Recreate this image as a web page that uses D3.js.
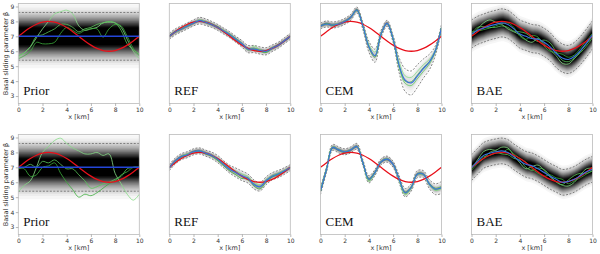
<!DOCTYPE html>
<html lang="en">
<head>
<meta charset="UTF-8">
<script src="https://cdn.jsdelivr.net/npm/d3@7"></script>
<style>
  body { margin: 0; background: #fff; }
</style>
</head>
<body>
<div id="container"></div>
<script>
// x grid (km), shared by every curve
const xKm = [0,0.5,1,1.5,2,2.5,3,3.5,4,4.5,5,5.5,6,6.5,7,7.5,8,8.5,9,9.5,10];
const xTicks = [0,2,4,6,8,10];
const yTicks = [3,4,5,6,7,8,9];

// true parameter (red)
const truth = [7,7.31,7.59,7.81,7.95,8,7.95,7.81,7.59,7.31,7,6.69,6.41,6.19,6.05,6,6.05,6.19,6.41,6.69,7];

// prior
const priorMean = [7,7,7,7,7,7,7,7,7,7,7,7,7,7,7,7,7,7,7,7,7];
const priorSd   = [0.8,0.8,0.8,0.8,0.8,0.8,0.8,0.8,0.8,0.8,0.8,0.8,0.8,0.8,0.8,0.8,0.8,0.8,0.8,0.8,0.8];
const priorSamplesTop = [
  [5.6,5.9,6.3,6.9,7.5,8.0,8.5,8.65,8.75,8.5,7.7,7.4,7.5,7.6,7.9,7.95,7.9,7.6,6.8,6.0,5.5],
  [5.5,5.7,6.0,6.6,6.5,6.5,6.6,7.2,7.6,7.4,7.2,7.4,7.5,7.5,6.95,7.5,7.8,7.7,7.0,6.2,5.7],
  [5.7,5.9,6.3,7.0,7.1,7.3,7.5,7.8,7.8,7.6,7.3,7.5,7.6,7.8,7.9,8.0,7.9,7.4,6.5,6.1,5.8]
];
const priorSamplesBottom = [
  [5.35,5.8,6.1,7.0,8.0,8.4,8.8,8.95,8.6,8.3,8.1,7.9,7.9,8.0,7.8,7.9,6.6,5.9,5.2,4.8,5.2],
  [7.05,6.9,6.4,6.5,7.0,7.1,7.3,6.6,6.0,5.5,5.0,5.2,5.1,5.3,5.6,5.9,6.1,6.5,6.7,7.0,7.0],
  [6.9,7.0,7.2,7.0,7.4,7.3,7.5,7.2,6.9,6.9,6.5,6.1,5.6,5.7,5.9,6.0,6.2,6.4,6.9,7.0,7.0]
];

// REF posterior
const refMeanTop = [7.0,7.3,7.5,7.7,7.9,8.05,7.95,7.8,7.6,7.35,7.1,6.8,6.5,6.15,6.15,6.05,6.0,6.2,6.4,6.7,7.0];
const refSdTop   = [0.1,0.1,0.1,0.1,0.1,0.11,0.11,0.1,0.1,0.1,0.1,0.1,0.11,0.12,0.12,0.12,0.12,0.11,0.1,0.1,0.1];
const refSamplesTop = [
  [6.95,7.25,7.5,7.7,7.92,8.1,8.0,7.82,7.62,7.4,7.12,6.82,6.5,6.1,6.35,6.1,5.95,6.15,6.4,6.72,7.0],
  [7.05,7.32,7.48,7.72,7.88,8.02,7.92,7.78,7.65,7.3,7.05,6.78,6.45,6.2,6.1,6.0,5.92,6.2,6.45,6.68,6.95],
  [7.0,7.28,7.55,7.68,7.9,8.06,7.98,7.85,7.58,7.38,7.15,6.85,6.55,6.1,6.2,6.08,6.05,6.25,6.38,6.7,7.02]
];
const refMeanBottom = [6.98,7.43,7.72,7.85,8.04,8.1,7.95,7.8,7.55,7.2,6.87,6.65,6.43,6.25,5.85,5.7,6.1,6.4,6.55,6.75,6.98];
const refSdBottom   = [0.1,0.1,0.1,0.1,0.1,0.1,0.1,0.11,0.12,0.12,0.13,0.15,0.16,0.15,0.15,0.14,0.13,0.12,0.12,0.11,0.1];
const refSamplesBottom = [
  [7.0,7.4,7.75,7.9,8.0,8.12,7.98,7.85,7.6,7.3,6.95,6.75,6.55,6.4,6.0,5.85,6.2,6.45,6.6,6.8,7.0],
  [6.95,7.45,7.7,7.82,8.06,8.08,7.9,7.75,7.45,7.1,6.75,6.5,6.25,6.3,5.75,5.55,6.0,6.35,6.5,6.72,6.95],
  [6.98,7.42,7.74,7.88,8.02,8.1,7.96,7.78,7.5,7.25,6.9,6.62,6.38,6.15,5.9,5.72,6.12,6.42,6.58,6.76,7.0]
];

// CEM posterior
const cemMeanTop = [7.7,7.83,7.76,7.83,8.0,8.27,8.76,7.7,6.3,5.7,7.15,7.87,6.83,5.06,4.06,3.88,4.33,4.84,5.28,6.05,7.6];
const cemSdTop   = [0.1,0.1,0.1,0.1,0.1,0.1,0.1,0.12,0.18,0.22,0.12,0.1,0.12,0.25,0.38,0.4,0.38,0.32,0.26,0.16,0.1];
const cemSamplesTop = [
  [7.72,7.8,7.78,7.85,8.02,8.25,8.72,7.75,6.45,5.95,7.2,7.85,6.9,5.3,4.35,4.25,4.65,5.1,5.45,6.12,7.62],
  [7.68,7.85,7.74,7.8,7.98,8.28,8.78,7.68,6.25,5.6,7.1,7.88,6.8,5.0,4.0,3.95,4.4,4.9,5.3,6.05,7.58],
  [7.7,7.82,7.77,7.84,8.01,8.26,8.75,7.72,6.35,5.7,7.15,7.86,6.78,4.9,3.85,3.7,4.15,4.65,5.15,5.98,7.6]
];
const cemMeanBottom = [5.42,6.87,8.33,8.17,8.04,8.17,8.4,7.32,6.2,6.65,7.37,7.55,7.2,6.2,5.3,5.65,6.54,6.54,5.87,5.53,5.65];
const cemSdBottom   = [0.12,0.1,0.1,0.1,0.1,0.1,0.1,0.1,0.12,0.1,0.1,0.1,0.1,0.12,0.14,0.12,0.12,0.12,0.15,0.18,0.2];
const cemSamplesBottom = [
  [5.5,6.95,8.38,8.2,8.06,8.2,8.42,7.3,6.05,6.6,7.4,7.58,7.18,6.1,5.15,5.6,6.5,6.5,5.8,5.45,5.55],
  [5.38,6.85,8.3,8.15,8.02,8.15,8.38,7.35,6.25,6.7,7.35,7.52,7.22,6.25,5.35,5.7,6.58,6.56,5.92,5.6,5.72],
  [5.45,6.9,8.35,8.18,8.05,8.18,8.4,7.3,6.15,6.62,7.38,7.56,7.2,6.15,5.25,5.62,6.52,6.52,5.85,5.5,5.62]
];

// BAE posterior
const baeMeanTop = [7.15,7.4,7.55,7.7,7.8,7.9,7.8,7.5,7.15,7.0,6.85,6.8,6.6,6.3,5.85,5.55,5.45,5.65,6.05,6.55,7.1];
const baeSdTop   = [0.47,0.47,0.47,0.47,0.47,0.47,0.47,0.47,0.47,0.47,0.47,0.47,0.47,0.47,0.47,0.47,0.47,0.47,0.47,0.47,0.47];
const baeSamplesTop = [
  [7.0,7.5,7.9,8.1,7.95,7.8,7.5,7.3,7.1,6.75,6.6,6.85,6.5,6.1,5.7,5.2,5.15,5.5,6.0,6.5,7.0],
  [7.3,7.35,7.45,7.55,7.7,7.85,7.9,7.6,7.0,6.8,7.05,6.95,6.35,6.0,5.9,5.8,5.6,5.75,6.2,6.7,7.2],
  [7.2,7.6,7.65,7.6,7.6,7.7,7.6,7.35,7.3,7.2,6.9,6.65,6.75,6.55,5.95,5.4,5.3,5.55,5.9,6.35,6.9]
];
const baeMeanBottom = [6.98,7.4,7.8,7.95,8.04,8.1,8.0,7.7,7.43,7.2,7.1,6.9,6.65,6.4,6.2,6.0,6.05,6.2,6.45,6.7,6.87];
const baeSdBottom   = [0.43,0.43,0.43,0.43,0.43,0.43,0.43,0.43,0.43,0.43,0.43,0.43,0.43,0.43,0.43,0.43,0.43,0.43,0.43,0.43,0.43];
const baeSamplesBottom = [
  [6.9,7.5,8.05,8.2,8.15,8.35,8.3,7.8,7.3,6.9,7.05,7.15,6.8,6.35,6.05,5.8,5.75,6.0,6.5,6.9,6.95],
  [7.1,7.3,7.7,7.8,7.95,7.95,8.2,7.9,7.6,7.35,6.9,6.6,6.4,6.5,6.3,6.2,5.9,6.1,6.3,6.55,6.8],
  [6.8,7.25,7.6,8.0,8.1,7.9,7.85,7.6,7.5,7.0,6.8,6.95,6.85,6.45,6.0,5.85,6.15,6.45,6.6,6.6,6.75]
];

const width = 600, height = 254;
const panelW = 121;
const colLeft = [18.3, 169.3, 320.5, 471.5];
const rowTop = [3.5, 134.5];
const panelH = 100;
const greens = ["#86dc86", "#3eae3e", "#5cc85c"];

const svg = d3.create("svg")
    .attr("width", width)
    .attr("height", height)
    .attr("font-family", "DejaVu Sans, sans-serif");

const panels = [
  {row: 0, col: 0, label: "Prior", mean: priorMean, sd: priorSd, samples: priorSamplesTop, kind: "prior"},
  {row: 0, col: 1, label: "REF", mean: refMeanTop, sd: refSdTop, samples: refSamplesTop, kind: "narrow"},
  {row: 0, col: 2, label: "CEM", mean: cemMeanTop, sd: cemSdTop, samples: cemSamplesTop, kind: "narrow"},
  {row: 0, col: 3, label: "BAE", mean: baeMeanTop, sd: baeSdTop, samples: baeSamplesTop, kind: "wide"},
  {row: 1, col: 0, label: "Prior", mean: priorMean, sd: priorSd, samples: priorSamplesBottom, kind: "prior"},
  {row: 1, col: 1, label: "REF", mean: refMeanBottom, sd: refSdBottom, samples: refSamplesBottom, kind: "narrow"},
  {row: 1, col: 2, label: "CEM", mean: cemMeanBottom, sd: cemSdBottom, samples: cemSamplesBottom, kind: "narrow"},
  {row: 1, col: 3, label: "BAE", mean: baeMeanBottom, sd: baeSdBottom, samples: baeSamplesBottom, kind: "wide"}
];

panels.forEach((p, k) => {
  const left = colLeft[p.col], top = rowTop[p.row];
  const x = d3.scaleLinear().domain([0, 10]).range([left, left + panelW]);
  const y = d3.scaleLinear().domain([2.5, 9.2]).range([top + panelH, top]);

  const g = svg.append("g");
  const clipId = "clip" + k;
  svg.append("clipPath").attr("id", clipId)
    .append("rect").attr("x", left).attr("y", top).attr("width", panelW).attr("height", panelH);
  const body = g.append("g").attr("clip-path", `url(#${clipId})`);

  // density shading: stacked layers so that darkness ~ min(1, s*exp(-d^2/2sd^2))
  const N = 28;
  const peak = i => p.kind === "narrow" ? Math.min(0.7, 0.06 / p.sd[i])
                  : p.kind === "prior" ? 1.3 : 1.1;
  for (let j = 1; j <= N; j++) {
    const c = j / N;
    const hw = i => {
      const s = peak(i);
      return s > c ? p.sd[i] * Math.sqrt(2 * Math.log(s / c)) : 0;
    };
    const area = d3.area()
      .x((d, i) => x(d))
      .y0((d, i) => y(p.mean[i] - hw(i)))
      .y1((d, i) => y(p.mean[i] + hw(i)))
      .curve(d3.curveCatmullRom);
    body.append("path")
      .attr("d", area(xKm))
      .attr("fill", "#000")
      .attr("fill-opacity", 1 / (N - j + 1));
  }

  const line = vals => d3.line()
      .x((d, i) => x(d))
      .y((d, i) => y(vals[i]))
      .curve(d3.curveCatmullRom)(xKm);

  // +-2 sd dashed bounds
  [2, -2].forEach(m => {
    body.append("path")
      .attr("d", line(p.mean.map((v, i) => v + m * p.sd[i])))
      .attr("fill", "none")
      .attr("stroke", "#555")
      .attr("stroke-width", 0.7)
      .attr("stroke-dasharray", "2,1.5");
  });

  // samples
  p.samples.forEach((s, i) => {
    body.append("path")
      .attr("d", line(s))
      .attr("fill", "none")
      .attr("stroke", greens[i])
      .attr("stroke-width", 0.8);
  });

  // truth + mean
  body.append("path").attr("d", line(truth))
    .attr("fill", "none").attr("stroke", "#e8101a").attr("stroke-width", 1.3);
  body.append("path").attr("d", line(p.mean))
    .attr("fill", "none").attr("stroke", p.kind === "prior" ? "#2446d8" : "#3a6fe0")
    .attr("stroke-width", p.kind === "prior" ? 1.5 : 1.1);

  // frame
  g.append("rect")
    .attr("x", left).attr("y", top).attr("width", panelW).attr("height", panelH)
    .attr("fill", "none").attr("stroke", "#bbb").attr("stroke-width", 0.8);

  // x axis
  const xAxis = g.append("g")
    .attr("transform", `translate(0,${top + panelH})`)
    .call(d3.axisBottom(x).tickValues(xTicks).tickFormat(d3.format("d")).tickSize(2.5).tickPadding(1.5));
  xAxis.select(".domain").remove();
  xAxis.selectAll("line").attr("stroke", "#888").attr("stroke-width", 0.6);
  xAxis.selectAll("text").attr("font-size", 6).attr("fill", "#333")
    .attr("font-family", "DejaVu Sans");

  g.append("text")
    .attr("x", left + panelW / 2).attr("y", top + panelH + 15.5)
    .attr("text-anchor", "middle").attr("font-size", 6.5).attr("fill", "#333")
    .text("x [km]");

  if (p.col === 0) {
    const yAxis = g.append("g")
      .attr("transform", `translate(${left},0)`)
      .call(d3.axisLeft(y).tickValues(yTicks).tickFormat(d3.format("d")).tickSize(2.5).tickPadding(1.5));
    yAxis.select(".domain").remove();
    yAxis.selectAll("line").attr("stroke", "#888").attr("stroke-width", 0.6);
    yAxis.selectAll("text").attr("font-size", 6).attr("fill", "#333")
      .attr("font-family", "DejaVu Sans");
    g.append("text")
      .attr("transform", `translate(7.5,${top + panelH / 2}) rotate(-90)`)
      .attr("text-anchor", "middle").attr("font-size", 6.5).attr("fill", "#333")
      .text("Basal sliding parameter β");
  }

  g.append("text")
    .attr("x", left + 5).attr("y", y(3.05))
    .attr("font-family", "Liberation Serif, serif")
    .attr("font-size", 13).attr("fill", "#111")
    .text(p.label);
});

document.getElementById("container").appendChild(svg.node());
</script>
</body>
</html>
